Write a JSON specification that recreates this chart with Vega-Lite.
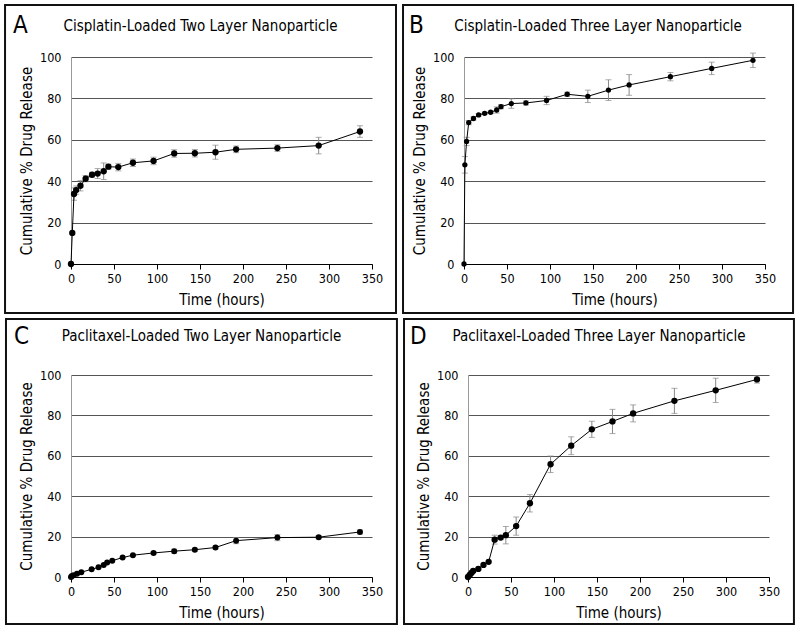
{
  "$schema": "https://vega.github.io/schema/vega-lite/v6.json",
  "padding": {"left": 4, "top": 4, "right": 0, "bottom": 0},
  "background": "#ffffff",
  "datasets": {
    "A": [
      {"t": 0, "v": 0, "e": 0}, {"t": 1.5, "v": 15, "e": 0}, {"t": 3.5, "v": 33.8, "e": 3}, {"t": 6, "v": 35.7, "e": 2},
      {"t": 11, "v": 37.8, "e": 2.5}, {"t": 17, "v": 41.2, "e": 1.5}, {"t": 24.5, "v": 43.1, "e": 1.2}, {"t": 31, "v": 43.7, "e": 2.4},
      {"t": 38, "v": 44.8, "e": 4}, {"t": 43.5, "v": 47, "e": 1.2}, {"t": 55, "v": 46.8, "e": 1.8}, {"t": 72, "v": 48.9, "e": 1.8},
      {"t": 96, "v": 49.8, "e": 1.8}, {"t": 120, "v": 53.4, "e": 1.8}, {"t": 144, "v": 53.5, "e": 1.8}, {"t": 168, "v": 54, "e": 3.4},
      {"t": 192, "v": 55.4, "e": 1.6}, {"t": 240, "v": 56, "e": 1.6}, {"t": 288, "v": 57.2, "e": 4}, {"t": 336, "v": 64, "e": 2.8}
    ],
    "B": [
      {"t": 0, "v": 0, "e": 0}, {"t": 1, "v": 47.9, "e": 4}, {"t": 3, "v": 59.2, "e": 2}, {"t": 5.5, "v": 68.3, "e": 1},
      {"t": 11, "v": 70.3, "e": 0.8}, {"t": 17, "v": 72, "e": 0.6}, {"t": 24, "v": 72.8, "e": 0.6}, {"t": 31, "v": 73.3, "e": 0.6},
      {"t": 38, "v": 74.4, "e": 1.5}, {"t": 43, "v": 76, "e": 1}, {"t": 55, "v": 77.5, "e": 2.3}, {"t": 72, "v": 77.8, "e": 1},
      {"t": 96, "v": 79, "e": 2}, {"t": 120, "v": 82, "e": 1}, {"t": 144, "v": 81, "e": 3}, {"t": 168, "v": 84, "e": 5},
      {"t": 192, "v": 86.5, "e": 5}, {"t": 240, "v": 90.5, "e": 2}, {"t": 288, "v": 94.5, "e": 3}, {"t": 336, "v": 98.4, "e": 3.5}
    ],
    "C": [
      {"t": 0, "v": 0, "e": 0}, {"t": 1, "v": 0.5, "e": 0}, {"t": 3, "v": 0.9, "e": 0}, {"t": 7, "v": 1.6, "e": 0},
      {"t": 12, "v": 2.4, "e": 0}, {"t": 24, "v": 3.8, "e": 0}, {"t": 32, "v": 4.8, "e": 0}, {"t": 38, "v": 6, "e": 0},
      {"t": 42, "v": 7.2, "e": 0}, {"t": 48, "v": 8.1, "e": 0}, {"t": 60, "v": 9.6, "e": 0}, {"t": 72, "v": 10.8, "e": 0},
      {"t": 96, "v": 11.9, "e": 0.5}, {"t": 120, "v": 12.8, "e": 1}, {"t": 144, "v": 13.5, "e": 0.7}, {"t": 168, "v": 14.6, "e": 0.7},
      {"t": 192, "v": 18, "e": 1.5}, {"t": 240, "v": 19.5, "e": 1.5}, {"t": 288, "v": 19.7, "e": 0.8}, {"t": 336, "v": 22.3, "e": 1}
    ],
    "D": [
      {"t": 0, "v": 0, "e": 0}, {"t": 2, "v": 1, "e": 0}, {"t": 4, "v": 2, "e": 0}, {"t": 6, "v": 3, "e": 0},
      {"t": 12, "v": 4, "e": 0}, {"t": 18, "v": 6, "e": 0}, {"t": 24, "v": 7.5, "e": 0}, {"t": 31, "v": 18.5, "e": 2.2},
      {"t": 38, "v": 19.5, "e": 1}, {"t": 44, "v": 20.7, "e": 4.3}, {"t": 56, "v": 25.2, "e": 4.5}, {"t": 72, "v": 36.5, "e": 4.3},
      {"t": 96, "v": 55.8, "e": 4.1}, {"t": 120, "v": 65, "e": 4.4}, {"t": 144, "v": 73.1, "e": 4}, {"t": 168, "v": 77, "e": 6},
      {"t": 192, "v": 81, "e": 4.2}, {"t": 240, "v": 87.2, "e": 6.2}, {"t": 288, "v": 92.4, "e": 6}, {"t": 336, "v": 97.8, "e": 1.8}
    ]
  },
  "vconcat": [
    {
      "hconcat": [
        {
          "width": 301, "height": 207,
          "title": {"text": "Cisplatin-Loaded Two Layer Nanoparticle", "offset": -30},
          "data": {"name": "A"},
          "layer": [
            {"data": {"values": [{}]}, "mark": {"type": "rect", "fill": "transparent", "stroke": "#111", "strokeWidth": 2, "clip": false},
             "encoding": {"x": {"datum": -76.7, "type": "quantitative", "title": "Time (hours)"}, "x2": {"datum": 377.9}, "y": {"datum": 125.1, "type": "quantitative", "title": "Cumulative % Drug Release"}, "y2": {"datum": -23.7}}},
            {"data": {"values": [{}]}, "mark": {"type": "text", "text": "A", "fontSize": 24, "align": "left", "baseline": "alphabetic", "color": "#000", "clip": false},
             "encoding": {"x": {"datum": -67.4, "type": "quantitative", "title": "Time (hours)"}, "y": {"datum": 111.6, "type": "quantitative", "title": "Cumulative % Drug Release"}}},
            {"transform": [{"filter": "datum.e > 0"}], "mark": {"type": "errorbar", "color": "#888", "thickness": 1, "ticks": {"size": 6, "color": "#888"}},
             "encoding": {"x": {"field": "t", "type": "quantitative", "title": "Time (hours)"}, "y": {"field": "v", "type": "quantitative", "title": "Cumulative % Drug Release"}, "yError": {"field": "e"}}},
            {"mark": {"type": "line", "color": "#000", "strokeWidth": 1},
             "encoding": {"x": {"field": "t", "type": "quantitative", "title": "Time (hours)", "scale": {"domain": [0, 350], "nice": false}}, "y": {"field": "v", "type": "quantitative", "title": "Cumulative % Drug Release", "scale": {"domain": [0, 100], "nice": false}}}},
            {"mark": {"type": "point", "filled": true, "color": "#000", "opacity": 1, "size": 40},
             "encoding": {"x": {"field": "t", "type": "quantitative", "title": "Time (hours)"}, "y": {"field": "v", "type": "quantitative", "title": "Cumulative % Drug Release"}}}
          ]
        },
        {
          "width": 301, "height": 207,
          "title": {"text": "Cisplatin-Loaded Three Layer Nanoparticle", "offset": -30},
          "data": {"name": "B"},
          "layer": [
            {"data": {"values": [{}]}, "mark": {"type": "rect", "fill": "transparent", "stroke": "#111", "strokeWidth": 2, "clip": false},
             "encoding": {"x": {"datum": -70.9, "type": "quantitative", "title": "Time (hours)"}, "x2": {"datum": 382.6}, "y": {"datum": 125.1, "type": "quantitative", "title": "Cumulative % Drug Release"}, "y2": {"datum": -23.7}}},
            {"data": {"values": [{}]}, "mark": {"type": "text", "text": "B", "fontSize": 24, "align": "left", "baseline": "alphabetic", "color": "#000", "clip": false},
             "encoding": {"x": {"datum": -64, "type": "quantitative", "title": "Time (hours)"}, "y": {"datum": 111.6, "type": "quantitative", "title": "Cumulative % Drug Release"}}},
            {"transform": [{"filter": "datum.e > 0"}], "mark": {"type": "errorbar", "color": "#888", "thickness": 1, "ticks": {"size": 6, "color": "#888"}},
             "encoding": {"x": {"field": "t", "type": "quantitative", "title": "Time (hours)"}, "y": {"field": "v", "type": "quantitative", "title": "Cumulative % Drug Release"}, "yError": {"field": "e"}}},
            {"mark": {"type": "line", "color": "#000", "strokeWidth": 1},
             "encoding": {"x": {"field": "t", "type": "quantitative", "title": "Time (hours)", "scale": {"domain": [0, 350], "nice": false}}, "y": {"field": "v", "type": "quantitative", "title": "Cumulative % Drug Release", "scale": {"domain": [0, 100], "nice": false}}}},
            {"mark": {"type": "point", "filled": true, "color": "#000", "opacity": 1, "size": 28},
             "encoding": {"x": {"field": "t", "type": "quantitative", "title": "Time (hours)"}, "y": {"field": "v", "type": "quantitative", "title": "Cumulative % Drug Release"}}}
          ]
        }
      ]
    },
    {
      "hconcat": [
        {
          "width": 301, "height": 202,
          "title": {"text": "Paclitaxel-Loaded Two Layer Nanoparticle", "offset": -26},
          "data": {"name": "C"},
          "layer": [
            {"data": {"values": [{}]}, "mark": {"type": "rect", "fill": "transparent", "stroke": "#111", "strokeWidth": 2, "clip": false},
             "encoding": {"x": {"datum": -75.6, "type": "quantitative", "title": "Time (hours)"}, "x2": {"datum": 379}, "y": {"datum": 127.7, "type": "quantitative", "title": "Cumulative % Drug Release"}, "y2": {"datum": -23.3}}},
            {"data": {"values": [{}]}, "mark": {"type": "text", "text": "C", "fontSize": 24, "align": "left", "baseline": "alphabetic", "color": "#000", "clip": false},
             "encoding": {"x": {"datum": -66.3, "type": "quantitative", "title": "Time (hours)"}, "y": {"datum": 115.3, "type": "quantitative", "title": "Cumulative % Drug Release"}}},
            {"transform": [{"filter": "datum.e > 0"}], "mark": {"type": "errorbar", "color": "#888", "thickness": 1, "ticks": {"size": 6, "color": "#888"}},
             "encoding": {"x": {"field": "t", "type": "quantitative", "title": "Time (hours)"}, "y": {"field": "v", "type": "quantitative", "title": "Cumulative % Drug Release"}, "yError": {"field": "e"}}},
            {"mark": {"type": "line", "color": "#000", "strokeWidth": 1},
             "encoding": {"x": {"field": "t", "type": "quantitative", "title": "Time (hours)", "scale": {"domain": [0, 350], "nice": false}}, "y": {"field": "v", "type": "quantitative", "title": "Cumulative % Drug Release", "scale": {"domain": [0, 100], "nice": false}}}},
            {"mark": {"type": "point", "filled": true, "color": "#000", "opacity": 1, "size": 36},
             "encoding": {"x": {"field": "t", "type": "quantitative", "title": "Time (hours)"}, "y": {"field": "v", "type": "quantitative", "title": "Cumulative % Drug Release"}}}
          ]
        },
        {
          "width": 301, "height": 202,
          "title": {"text": "Paclitaxel-Loaded Three Layer Nanoparticle", "offset": -26},
          "data": {"name": "D"},
          "layer": [
            {"data": {"values": [{}]}, "mark": {"type": "rect", "fill": "transparent", "stroke": "#111", "strokeWidth": 2, "clip": false},
             "encoding": {"x": {"datum": -74.4, "type": "quantitative", "title": "Time (hours)"}, "x2": {"datum": 379}, "y": {"datum": 127.7, "type": "quantitative", "title": "Cumulative % Drug Release"}, "y2": {"datum": -23.3}}},
            {"data": {"values": [{}]}, "mark": {"type": "text", "text": "D", "fontSize": 24, "align": "left", "baseline": "alphabetic", "color": "#000", "clip": false},
             "encoding": {"x": {"datum": -67.4, "type": "quantitative", "title": "Time (hours)"}, "y": {"datum": 115.3, "type": "quantitative", "title": "Cumulative % Drug Release"}}},
            {"transform": [{"filter": "datum.e > 0"}], "mark": {"type": "errorbar", "color": "#888", "thickness": 1, "ticks": {"size": 6, "color": "#888"}},
             "encoding": {"x": {"field": "t", "type": "quantitative", "title": "Time (hours)"}, "y": {"field": "v", "type": "quantitative", "title": "Cumulative % Drug Release"}, "yError": {"field": "e"}}},
            {"mark": {"type": "line", "color": "#000", "strokeWidth": 1},
             "encoding": {"x": {"field": "t", "type": "quantitative", "title": "Time (hours)", "scale": {"domain": [0, 350], "nice": false}}, "y": {"field": "v", "type": "quantitative", "title": "Cumulative % Drug Release", "scale": {"domain": [0, 100], "nice": false}}}},
            {"mark": {"type": "point", "filled": true, "color": "#000", "opacity": 1, "size": 40},
             "encoding": {"x": {"field": "t", "type": "quantitative", "title": "Time (hours)"}, "y": {"field": "v", "type": "quantitative", "title": "Cumulative % Drug Release"}}}
          ]
        }
      ],
      "spacing": 5
    }
  ],
  "spacing": 3,
  "config": {
    "font": "DejaVu Sans Condensed",
    "view": {"stroke": null},
    "concat": {"spacing": 5},
    "title": {"fontSize": 15, "fontWeight": "normal", "color": "#000", "frame": "bounds", "anchor": "middle", "baseline": "alphabetic"},
    "text": {"font": "DejaVu Sans Condensed"},
    "axis": {"labelFontSize": 12.5, "labelColor": "#000", "titleFontSize": 15, "titleFontWeight": "normal", "titleColor": "#000", "labelFont": "DejaVu Sans Condensed", "titleFont": "DejaVu Sans Condensed"},
    "axisX": {"values": [0, 50, 100, 150, 200, 250, 300, 350], "grid": false, "domainColor": "#000", "tickColor": "#000", "tickSize": 5, "labelPadding": 3, "titlePadding": 8, "labelFlush": false, "labelOverlap": false},
    "axisY": {"values": [0, 20, 40, 60, 80, 100], "grid": true, "gridColor": "#555", "gridWidth": 1, "domainColor": "#999", "ticks": false, "labelPadding": 10, "titlePadding": 5, "labelFlush": false}
  }
}
